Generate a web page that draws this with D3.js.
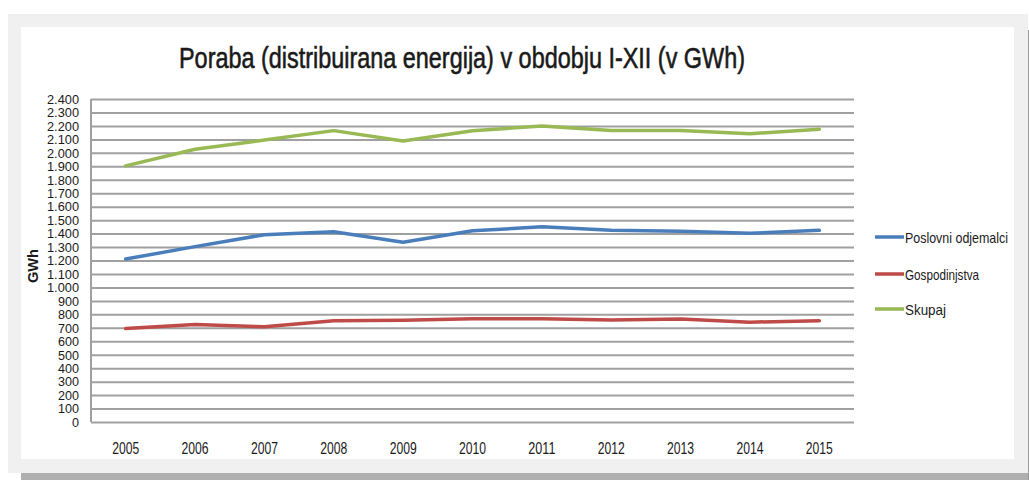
<!DOCTYPE html>
<html>
<head>
<meta charset="utf-8">
<script src="https://cdn.jsdelivr.net/npm/d3@7"></script>
<style>
  body { margin: 0; background: #fff; }
  text { font-family: "Liberation Sans", Arial, sans-serif; fill: #1a1a1a; }
</style>
</head>
<body>
<svg width="1029" height="480"></svg>
<script>
var years = ["2005", "2006", "2007", "2008", "2009", "2010", "2011", "2012", "2013", "2014", "2015"];
var poslovni = [1211, 1303, 1392, 1413, 1336, 1421, 1450, 1424, 1417, 1402, 1424];
var gospodinjstva = [694, 724, 707, 752, 756, 767, 767, 758, 766, 742, 753];
var skupaj = [1903, 2027, 2095, 2165, 2088, 2164, 2199, 2166, 2166, 2142, 2176];
var seriesNames = ["Poslovni odjemalci", "Gospodinjstva", "Skupaj"];
var seriesColors = ["#4a7ebb", "#be4b48", "#98b954"];
var yTicks = d3.range(0, 2401, 100);

var svg = d3.select("svg");

// frame: outer gray box, shadow, white panel
svg.append("rect").attr("x", 8).attr("y", 14).attr("width", 1020).attr("height", 459).attr("fill", "#f0f0f0");
svg.append("rect").attr("x", 21).attr("y", 473).attr("width", 1008).attr("height", 7).attr("fill", "#afafaf");
svg.append("rect").attr("x", 1028).attr("y", 30).attr("width", 1).attr("height", 450).attr("fill", "#9a9a9a");
svg.append("rect").attr("x", 21).attr("y", 27).attr("width", 993).attr("height", 432).attr("fill", "#ffffff");

var plot = {left: 91, right: 854, top: 99, bottom: 422};

var x = d3.scaleBand().domain(years).range([plot.left, plot.right]);
var y = d3.scaleLinear().domain([0, 2400]).range([plot.bottom, plot.top]);

var locale = d3.formatLocale({decimal: ",", thousands: ".", grouping: [3], currency: ["", ""]});
var fmt = locale.format(",d");

// condensed width like the original (digits ~7px, dots ~4px)
function labelWidth(s) {
    var w = 0;
    for (var i = 0; i < s.length; i++) w += s[i] === "." ? 4 : 7;
    return w;
}

// gridlines + y labels
var yAxis = svg.append("g")
    .attr("transform", "translate(" + plot.left + ",0)")
    .call(d3.axisLeft(y).tickValues(yTicks).tickSize(-(plot.right - plot.left)).tickPadding(12).tickFormat(fmt));
yAxis.select(".domain").remove();
yAxis.selectAll(".tick line").attr("stroke", "#a0a0a0").attr("stroke-width", 2);
yAxis.selectAll(".tick text")
    .attr("font-size", 12)
    .attr("dy", "0.36em")
    .attr("textLength", function(d) { return labelWidth(fmt(d)); })
    .attr("lengthAdjust", "spacingAndGlyphs")
    .style("font-family", null);

// left axis line
svg.append("line")
    .attr("x1", plot.left).attr("x2", plot.left)
    .attr("y1", plot.top).attr("y2", plot.bottom)
    .attr("stroke", "#a0a0a0").attr("stroke-width", 2);

// x labels
var xAxis = svg.append("g")
    .attr("transform", "translate(0," + plot.bottom + ")")
    .call(d3.axisBottom(x).tickSize(0).tickPadding(21));
xAxis.select(".domain").remove();
xAxis.selectAll(".tick text")
    .attr("font-size", 16)
    .attr("textLength", 27)
    .attr("lengthAdjust", "spacingAndGlyphs")
    .style("font-family", null);

// y axis title
svg.append("text")
    .attr("transform", "translate(38,266) rotate(-90)")
    .attr("text-anchor", "middle")
    .attr("font-size", 14)
    .attr("font-weight", "bold")
    .attr("textLength", 34)
    .attr("lengthAdjust", "spacingAndGlyphs")
    .text("GWh");

// title
svg.append("text")
    .attr("x", 179).attr("y", 68)
    .attr("font-size", 30)
    .attr("textLength", 566)
    .attr("lengthAdjust", "spacingAndGlyphs")
    .attr("stroke", "#1a1a1a")
    .attr("stroke-width", 0.6)
    .text("Poraba (distribuirana energija) v obdobju I-XII  (v GWh)");

// lines
var line = d3.line()
    .x(function(d, i) { return x(years[i]) + x.bandwidth() / 2; })
    .y(function(d) { return y(d); });

[poslovni, gospodinjstva, skupaj].forEach(function(values, k) {
    svg.append("path")
        .datum(values)
        .attr("fill", "none")
        .attr("stroke", seriesColors[k])
        .attr("stroke-width", 3.5)
        .attr("stroke-linejoin", "round")
        .attr("stroke-linecap", "round")
        .attr("d", line);
});

// legend
var legendY = [237, 274, 309];
var legendW = [103, 74, 41];
var legend = svg.append("g");
seriesNames.forEach(function(name, k) {
    legend.append("line")
        .attr("x1", 875).attr("x2", 904)
        .attr("y1", legendY[k]).attr("y2", legendY[k])
        .attr("stroke", seriesColors[k]).attr("stroke-width", 3.5);
    legend.append("text")
        .attr("x", 905).attr("y", legendY[k] + 6)
        .attr("font-size", 15)
        .attr("textLength", legendW[k])
        .attr("lengthAdjust", "spacingAndGlyphs")
        .text(name);
});
</script>
</body>
</html>
